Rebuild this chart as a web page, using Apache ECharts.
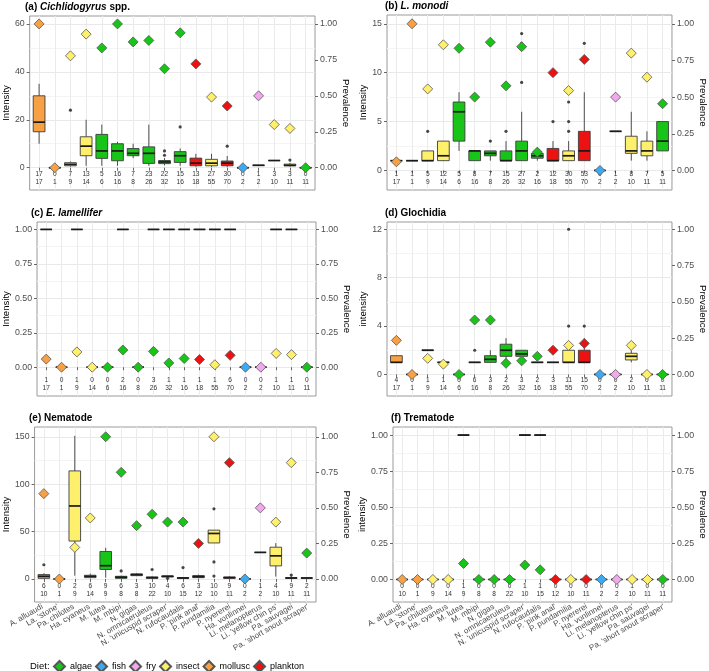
<!DOCTYPE html>
<html><head><meta charset="utf-8">
<script src="https://cdn.jsdelivr.net/npm/echarts@6/dist/echarts.min.js"></script>
<style>html,body{margin:0;padding:0;background:#fff}#c{width:709px;height:671px}</style>
</head><body><div id="c"></div>
<script>
// ---------- DATA ----------
const species = ["A. alluaudi","La. 'stone'","Pa. chilotes","Ha. cyaneus","M. lutea","M. mbipi","N. gigas","N. omnicaeruleus","N. 'unicuspid scraper'","N. rufocaudalis","P. 'pink anal'","P. pundamilia","P. nyererei","Ha. vonlinnei","Li. melanopterus","Li. 'yellow chin ps'","Pa. sauvagei","Pa. 'short snout scraper'"];
const speciesDiet = ["mollusc","mollusc","insect","insect","algae","algae","algae","algae","algae","algae","plankton","insect","plankton","fish","fry","insect","insect","algae"];
const diets = ["algae","fish","fry","insect","mollusc","plankton"];
const prevTicks = [0, 0.25, 0.5, 0.75, 1];

// (a) Cichlidogyrus spp.
const aInfected = [17,0,7,13,5,16,7,23,22,15,13,27,30,0,1,3,3,0];
const aTotal    = [17,1,9,14,6,16,8,26,32,16,18,55,70,2,2,10,11,11];
const aPrevalence = [1.000,0.000,0.778,0.929,0.833,1.000,0.875,0.885,0.688,0.938,0.722,0.491,0.429,0.000,0.500,0.300,0.273,0.000];
const aBoxes = [[10,15,19,30,35],[0,0,0,0,0],[0.5,0.8,1.4,2.1,2.6],[0.8,5,9,12.9,20],[0.8,3.9,7,13.9,18],[0.8,2.9,7,10,10.8],[4,5,6,8,10],[0.8,1.8,6,8.7,18],[1,1.7,2.4,3,4],[0.8,2.2,5,6.7,8],[0.4,0.8,1.9,4,5.8],[0.3,0.8,1.9,3.5,5.8],[0.3,0.8,1.9,2.8,4.9],[0,0,0,0,0],[1,1,1,1,1],[3,3,3,3,3],[0.5,0.8,1,1.5,2],[0,0,0,0,0]];
const aOutliers = [[3,24],[9,5.2],[9,7],[10,17],[13,9],[17,3.2]];
const aTicks = [0,20,40,60];
const aGridLines = [0,10,20,30,40,50,60];

// (b) L. monodi
const bInfected = [1,1,5,12,5,8,7,15,27,2,12,30,53,0,1,8,7,5];
const bTotal    = [17,1,9,14,6,16,8,26,32,16,18,55,70,2,2,10,11,11];
const bPrevalence = [0.059,1.000,0.556,0.857,0.833,0.500,0.875,0.577,0.844,0.125,0.667,0.545,0.757,0.000,0.500,0.800,0.636,0.455];
const bBoxes = [[1,1,1,1,1],[1,1,1,1,1],[1,1,1,2,2],[1,1,1.5,3,3],[2,3,6,7,8],[1,1,2,2,2],[1,1.5,1.75,2,2],[1,1,1,2,3],[1,1,2,3,6],[1,1.25,1.5,1.75,2],[1,1,1,2.25,3],[1,1,1.5,2,3],[1,1,2,4,8],[0,0,0,0,0],[4,4,4,4,4],[1,1.75,2,3.5,6],[1,1.5,2,3,4],[2,2,3,5,5]];
const bOutliers = [[3,4],[7,3],[8,4],[9,9],[9,13],[9,14],[11,5],[12,4],[12,5],[12,7],[13,11.3],[13,13]];
const bTicks = [0,5,10,15];
const bGridLines = [0,2.5,5,7.5,10,12.5,15];

// (c) E. lamellifer
const cInfected = [1,0,1,0,0,2,0,3,1,1,1,1,6,0,0,1,1,0];
const cTotal    = [17,1,9,14,6,16,8,26,32,16,18,55,70,2,2,10,11,11];
const cPrevalence = [0.059,0.000,0.111,0.000,0.000,0.125,0.000,0.115,0.031,0.063,0.056,0.018,0.086,0.000,0.000,0.100,0.091,0.000];
const cBoxes = [[1,1,1,1,1],[0,0,0,0,0],[1,1,1,1,1],[0,0,0,0,0],[0,0,0,0,0],[1,1,1,1,1],[0,0,0,0,0],[1,1,1,1,1],[1,1,1,1,1],[1,1,1,1,1],[1,1,1,1,1],[1,1,1,1,1],[1,1,1,1,1],[0,0,0,0,0],[0,0,0,0,0],[1,1,1,1,1],[1,1,1,1,1],[0,0,0,0,0]];
const cOutliers = [];
const cTicks = [0,0.25,0.5,0.75,1];
const cGridLines = [0,0.125,0.25,0.375,0.5,0.625,0.75,0.875,1];

// (d) Glochidia
const dInfected = [4,0,1,1,0,6,3,2,3,2,3,11,15,0,0,2,0,0];
const dTotal    = [17,1,9,14,6,16,8,26,32,16,18,55,70,2,2,10,11,11];
const dPrevalence = [0.235,0.000,0.111,0.071,0.000,0.375,0.375,0.077,0.094,0.125,0.167,0.200,0.214,0.000,0.000,0.200,0.000,0.000];
const dBoxes = [[1,1,1,1.55,1.55],[0,0,0,0,0],[2,2,2,2,2],[1,1,1,1,1],[0,0,0,0,0],[1,1,1,1,1],[1,1,1.25,1.55,2],[1,1.5,2,2.5,3],[1.5,1.5,1.7,2,2],[1,1,1,1,1],[1,1,1,1,1],[1,1,1,2,2],[1,1,1,2,3],[0,0,0,0,0],[0,0,0,0,0],[1,1.2,1.5,1.75,2],[0,0,0,0,0],[0,0,0,0,0]];
const dOutliers = [[6,2],[12,4],[12,12],[13,4]];
const dTicks = [0,4,8,12];
const dGridLines = [0,2,4,6,8,10,12];

// (e) Nematode
const eInfected = [6,0,2,6,9,6,3,10,4,6,3,10,9,0,1,4,9,2];
const eTotal    = [10,1,9,14,9,8,8,22,10,15,12,10,11,2,2,10,11,11];
const ePrevalence = [0.600,0.000,0.222,0.429,1.000,0.750,0.375,0.455,0.400,0.400,0.250,1.000,0.818,0.000,0.500,0.400,0.818,0.182];
const eBoxes = [[0,0.7,2.8,4.6,6],[0,0,0,0,0],[3.5,40,77,114,151],[0.7,1.4,2.8,3.9,5.6],[1.4,10,14,29,33],[0.7,0.7,1.8,2.8,3.5],[3,3.5,4.6,5.3,6],[0.5,0.7,1.4,2.1,2.8],[2.1,2.1,2.8,3.2,3.2],[0.7,0.7,1,1.4,2],[0.7,1.4,2.5,3.5,4.6],[38,38,48,51.5,51.5],[0.7,0.7,1.4,2.1,2.8],[0,0,0,0,0],[28,28,28,28,28],[2.5,13.8,24.4,33.5,37.8],[0.7,0.7,1,1.4,3.2],[1,1,1,1,1]];
const eOutliers = [[1,15],[6,8.5],[8,10],[9,0.7],[10,12],[12,74],[12,18],[12,3],[17,4.2]];
const eTicks = [0,50,100,150];
const eGridLines = [0,25,50,75,100,125,150];

// (f) Trematode
const fInfected = [0,0,0,0,1,0,0,0,1,1,0,0,0,0,0,1,0,0];
const fTotal    = [10,1,9,14,9,8,8,22,10,15,12,10,11,2,2,10,11,11];
const fPrevalence = [0,0,0,0,0.111,0,0,0,0.100,0.067,0,0,0,0,0,0,0,0];
const fBoxes = [[0,0,0,0,0],[0,0,0,0,0],[0,0,0,0,0],[0,0,0,0,0],[1,1,1,1,1],[0,0,0,0,0],[0,0,0,0,0],[0,0,0,0,0],[1,1,1,1,1],[1,1,1,1,1],[0,0,0,0,0],[0,0,0,0,0],[0,0,0,0,0],[0,0,0,0,0],[0,0,0,0,0],[0,0,0,0,0],[0,0,0,0,0],[0,0,0,0,0]];
const fOutliers = [];
const fTicks = [0,0.25,0.5,0.75,1];
const fGridLines = [0,0.125,0.25,0.375,0.5,0.625,0.75,0.875,1];

// ---------- STYLE / LAYOUT ----------
const dietColors = {algae:'#18c418', fish:'#3ea8f0', fry:'#f4a6ee', insect:'#fff06c', mollusc:'#f8a044', plankton:'#ec1212'};
const FONT = '"Liberation Sans", Arial, sans-serif';

const panels = [
  {title:'{b|(a) }{bi|Cichlidogyrus}{b| spp.}', grid:[27,16,288,174], yr:[-9.3,63.3], scale:60, yName:'Intensity', lg:15, rg:24, dec:0,
   boxes:aBoxes, out:aOutliers, prev:aPrevalence, inf:aInfected, tot:aTotal, ticks:aTicks, gl:aGridLines, xl:false},
  {title:'{b|(b) }{bi|L. monodi}', grid:[387,15,289,175], yr:[-2.0,15.9], scale:15, yName:'Intensity', lg:15, rg:24, dec:0,
   boxes:bBoxes, out:bOutliers, prev:bPrevalence, inf:bInfected, tot:bTotal, ticks:bTicks, gl:bGridLines, xl:false},
  {title:'{b|(c) }{bi|E. lamellifer}', grid:[33,222,283,174], yr:[-0.209,1.054], scale:1, yName:'Intensity', lg:22, rg:24, dec:2,
   boxes:cBoxes, out:cOutliers, prev:cPrevalence, inf:cInfected, tot:cTotal, ticks:cTicks, gl:cGridLines, xl:false},
  {title:'{b|(d) Glochidia}', grid:[387,222,289,174], yr:[-1.78,12.6], scale:12, yName:'intensity', lg:15, rg:25, dec:0,
   boxes:dBoxes, out:dOutliers, prev:dPrevalence, inf:dInfected, tot:dTotal, ticks:dTicks, gl:dGridLines, xl:false},
  {title:'{b|(e) Nematode}', grid:[31,427,285,175], yr:[-24.3,160.3], scale:150, yName:'Intensity', lg:20, rg:22, dec:0,
   boxes:eBoxes, out:eOutliers, prev:ePrevalence, inf:eInfected, tot:eTotal, ticks:eTicks, gl:eGridLines, xl:true},
  {title:'{b|(f) Trematode}', grid:[393,427,283,175], yr:[-0.156,1.056], scale:1, yName:'intensity', lg:21, rg:24, dec:2,
   boxes:fBoxes, out:fOutliers, prev:fPrevalence, inf:fInfected, tot:fTotal, ticks:fTicks, gl:fGridLines, xl:true}
];

const cats = species.map((s, i) => i + 1);

function renderBox(params, api) {
  const x = api.value(0);
  const pts = [1,2,3,4,5].map(k => api.coord([x, api.value(k)]));
  const col = dietColors[speciesDiet[x - 1]];
  const cx = pts[0][0];
  const hw = api.size([0.75, 0])[0] / 2;
  const st = {stroke:'#3c3c3c', lineWidth:0.9, fill:null};
  return {type:'group', children:[
    {type:'line', shape:{x1:cx, y1:pts[4][1], x2:cx, y2:pts[3][1]}, style:st},
    {type:'line', shape:{x1:cx, y1:pts[1][1], x2:cx, y2:pts[0][1]}, style:st},
    {type:'rect', shape:{x:cx - hw, y:pts[3][1], width:2 * hw, height:pts[1][1] - pts[3][1]}, style:{fill:col, stroke:'#3c3c3c', lineWidth:0.9}},
    {type:'line', shape:{x1:cx - hw, y1:pts[2][1], x2:cx + hw, y2:pts[2][1]}, style:{stroke:'#1a1a1a', lineWidth:1.7}}
  ]};
}
function renderCount(params, api) {
  const x = api.value(0);
  const p = api.coord([x, 0]);
  const bottom = params.coordSys.y + params.coordSys.height;
  return {type:'text', style:{text: api.value(1) + '\n' + api.value(2), x:p[0], y:bottom - 11.8,
    align:'center', verticalAlign:'middle', fontSize:6.6, lineHeight:8.5, fill:'#333', fontFamily:FONT}};
}

const option = {animation:false, textStyle:{fontFamily:FONT}, title:[], grid:[], xAxis:[], yAxis:[], series:[],
  legend:{data:diets.map(d => ({name:d, icon:'diamond'})), left:53, top:660, padding:0, itemWidth:11, itemHeight:11, itemGap:3,
    selectedMode:false, textStyle:{fontSize:9, color:'#000', fontFamily:FONT}},
  graphic:[{type:'text', left:30, top:661, style:{text:'Diet:', fontSize:9.5, fill:'#000', fontFamily:FONT}}]
};

panels.forEach((p, g) => {
  const [l, t, w, h] = p.grid;
  option.grid.push({left:l, top:t, width:w, height:h, show:true, borderColor:'#9a9a9a', borderWidth:1});
  option.title.push({text:p.title, left:l - 2, top:t - 14, padding:0,
    textStyle:{rich:{b:{fontWeight:'bold', fontSize:10, color:'#000', fontFamily:FONT}, bi:{fontWeight:'bold', fontStyle:'italic', fontSize:10, color:'#000', fontFamily:FONT}}}});
  option.xAxis.push({type:'value', gridIndex:g, min:0.4, max:18.6, position:'bottom',
    axisLine:{show:false},
    axisTick:{show:true, length:3, lineStyle:{color:'#666'}, customValues:cats},
    axisLabel:{show:false},
    splitLine:{show:true, lineStyle:{color:'#ebebeb', width:1}}});
  const fmt = v => v.toFixed(p.dec);
  option.yAxis.push({type:'value', gridIndex:g, position:'left', min:p.yr[0], max:p.yr[1],
    axisLine:{show:false}, splitLine:{show:false},
    axisTick:{show:true, length:3, lineStyle:{color:'#666'}, customValues:p.ticks},
    axisLabel:{customValues:p.ticks, fontSize:8.8, color:'#4d4d4d', margin:5, formatter:fmt, showMinLabel:true, showMaxLabel:true},
    name:p.yName, nameLocation:'middle', nameGap:p.lg, nameRotate:90, nameTextStyle:{fontSize:9.6, color:'#000'}});
  option.yAxis.push({type:'value', gridIndex:g, position:'right', min:p.yr[0] / p.scale, max:p.yr[1] / p.scale,
    axisLine:{show:false}, splitLine:{show:false},
    axisTick:{show:true, length:3, lineStyle:{color:'#666'}, customValues:prevTicks},
    axisLabel:{customValues:prevTicks, fontSize:8.8, color:'#4d4d4d', margin:5, formatter:v => v.toFixed(2), showMinLabel:true, showMaxLabel:true},
    name:'Prevalence', nameLocation:'middle', nameGap:p.rg, nameRotate:-90, nameTextStyle:{fontSize:9.6, color:'#000'}});
  option.yAxis.push({type:'value', gridIndex:g, position:'left', min:p.yr[0], max:p.yr[1],
    axisLine:{show:false}, axisTick:{show:false, customValues:p.gl}, axisLabel:{show:false},
    splitLine:{show:true, lineStyle:{color:['#e9e9e9','#f4f4f4'], width:1}}});
  const yl = 3 * g, yr = 3 * g + 1;
  option.series.push({type:'custom', xAxisIndex:g, yAxisIndex:yl, renderItem:renderBox, silent:true,
    data:p.boxes.map((b, i) => [i + 1].concat(b))});
  option.series.push({type:'scatter', xAxisIndex:g, yAxisIndex:yl, symbol:'circle', symbolSize:3.2, silent:true,
    itemStyle:{color:'#1a1a1a'}, data:p.out});
  option.series.push({type:'custom', xAxisIndex:g, yAxisIndex:yl, renderItem:renderCount, silent:true,
    data:p.inf.map((n, i) => [i + 1, n, p.tot[i]])});
  diets.forEach(d => {
    const pts = [];
    p.prev.forEach((v, i) => { if (speciesDiet[i] === d) pts.push([i + 1, v]); });
    option.series.push({type:'scatter', name:d, xAxisIndex:g, yAxisIndex:yr, symbol:'diamond', symbolSize:10, silent:true, z:5,
      itemStyle:{color:dietColors[d], borderColor:'#555', borderWidth:0.8, opacity:1}, data:pts});
  });
});

// category label axes for the bottom row (species names)
panels.forEach((p, g) => {
  if (!p.xl) return;
  option.xAxis.push({type:'category', gridIndex:g, position:'bottom', data:species, boundaryGap:true,
    axisLine:{show:false}, axisTick:{show:false}, splitLine:{show:false},
    axisLabel:{interval:0, rotate:30, fontSize:8, color:'#4d4d4d', margin:4}});
});

const chart = echarts.init(document.getElementById('c'), null, {renderer:'canvas'});
chart.setOption(option);
</script></body></html>
